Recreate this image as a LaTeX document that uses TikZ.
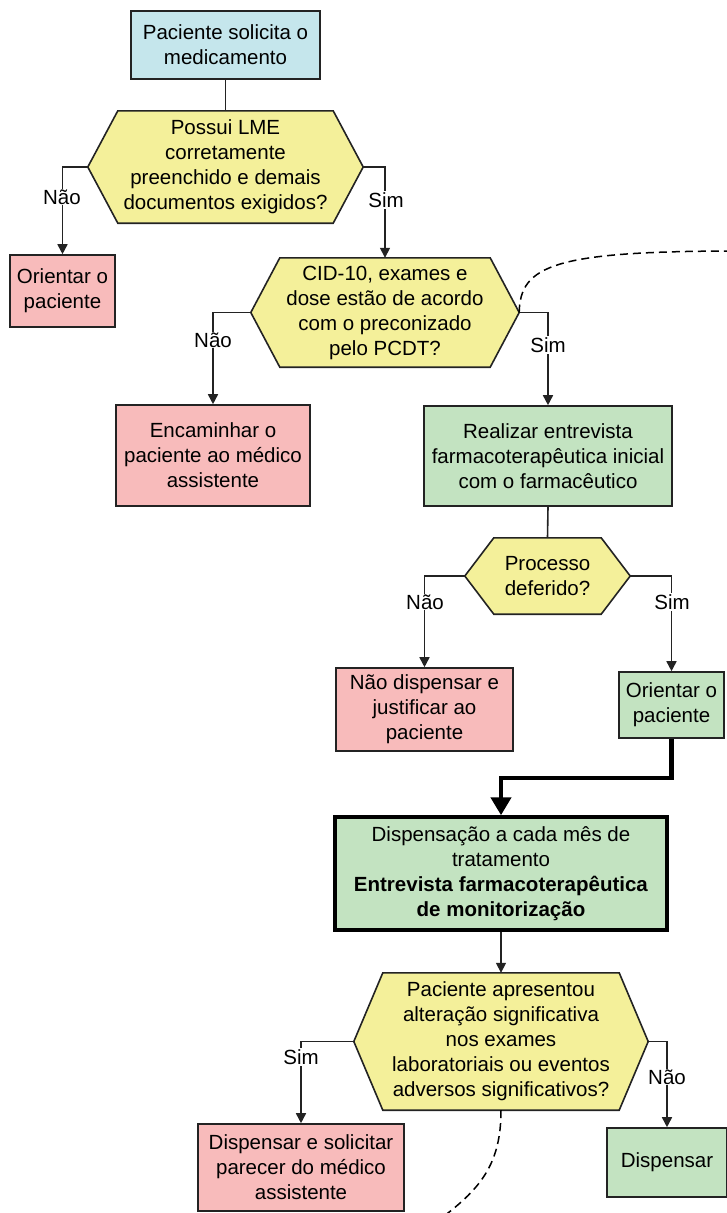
\documentclass[tikz,border=0pt]{standalone}
\usepackage{fontspec}
\setmainfont{Liberation Sans}
\usetikzlibrary{arrows.meta,calc,backgrounds}
\definecolor{bluefill}{RGB}{197,230,236}
\definecolor{yellowfill}{RGB}{244,240,154}
\definecolor{pinkfill}{RGB}{248,187,187}
\definecolor{greenfill}{RGB}{195,227,193}
\definecolor{edge}{RGB}{35,35,35}
\newcommand\hexpath[2]{\filldraw[hexline] (#1.north west) -- (#1.north east) -- ($(#1.east)+(#2,0)$) -- (#1.south east) -- (#1.south west) -- ($(#1.west)-(#2,0)$) -- cycle;}
\begin{document}
\begin{tikzpicture}[x=1pt,y=-1pt,
  every node/.style={font=\fontsize{20.5}{25}\selectfont},
  box/.style={draw=edge, line width=1.6pt, inner sep=0pt, align=center},
  hexnode/.style={inner sep=0pt, align=center},
  hexline/.style={draw=edge, line width=1.6pt, fill=yellowfill},
  conn/.style={draw=edge, line width=1.6pt},
  arr/.style={conn, -{Triangle[length=10pt,width=10pt]}},
  thickarr/.style={draw=black, line width=4.5pt, -{Triangle[length=18pt,width=20pt]}},
  lbl/.style={fill=white, inner sep=1pt},
  dashcurve/.style={draw=black, line width=1.5pt, dash pattern=on 8pt off 5pt}
]
\useasboundingbox (0,0) rectangle (726,1213);

% boxes
\node[box, fill=bluefill, minimum width=189pt, minimum height=68pt] (b1) at (225.5,45) {Paciente solicita o\\medicamento};
\node[hexnode, minimum width=215pt, minimum height=112pt] (h1) at (225.5,167) {Possui LME\\corretamente\\preenchido e demais\\documentos exigidos?};
\node[box, fill=pinkfill, minimum width=105pt, minimum height=72pt] (o1) at (62.5,291) {Orientar o\\paciente};
\node[hexnode, minimum width=210pt, minimum height=109pt] (h2) at (385,312.5) {CID-10, exames e\\dose estão de acordo\\com o preconizado\\pelo PCDT?};
\node[box, fill=pinkfill, minimum width=194pt, minimum height=101pt] (e1) at (213,455.5) {Encaminhar o\\paciente ao médico\\assistente};
\node[box, fill=greenfill, minimum width=248pt, minimum height=100pt] (r1) at (548,456) {Realizar entrevista\\farmacoterapêutica inicial\\com o farmacêutico};
\node[hexnode, minimum width=107pt, minimum height=76pt] (h3) at (547.5,576) {Processo\\deferido?};
\node[box, fill=pinkfill, minimum width=177pt, minimum height=83pt] (n1) at (424.5,709.5) {Não dispensar e\\justificar ao\\paciente};
\node[box, fill=greenfill, minimum width=105pt, minimum height=66pt] (o2) at (671.5,705) {Orientar o\\paciente};
\node[box, draw=black, line width=3.5pt, fill=greenfill, minimum width=332pt, minimum height=113pt] (d1) at (501,873.5) {Dispensação a cada mês de\\tratamento\\\textbf{Entrevista farmacoterapêutica}\\\textbf{de monitorização}};
\node[hexnode, minimum width=236pt, minimum height=137pt] (h4) at (501,1041.5) {Paciente apresentou\\alteração significativa\\nos exames\\laboratoriais ou eventos\\adversos significativos?};
\node[box, fill=pinkfill, minimum width=206pt, minimum height=87pt] (s1) at (301,1167.5) {Dispensar e solicitar\\parecer do médico\\assistente};
\node[box, fill=greenfill, minimum width=120pt, minimum height=69pt] (s2) at (667,1162.5) {Dispensar};

% hexagon outlines
\begin{scope}[on background layer]
\hexpath{h1}{30}
\hexpath{h2}{29}
\hexpath{h3}{29}
\hexpath{h4}{29}
\end{scope}

% tip coordinates
\coordinate (h1L) at ($(h1.west)-(30,0)$);
\coordinate (h1R) at ($(h1.east)+(30,0)$);
\coordinate (h2L) at ($(h2.west)-(29,0)$);
\coordinate (h2R) at ($(h2.east)+(29,0)$);
\coordinate (h3L) at ($(h3.west)-(29,0)$);
\coordinate (h3R) at ($(h3.east)+(29,0)$);
\coordinate (h4L) at ($(h4.west)-(29,0)$);
\coordinate (h4R) at ($(h4.east)+(29,0)$);
\coordinate (c1end) at (740,251);
\coordinate (c2end) at (436,1222);

% connectors
\draw[conn] (b1.south) -- (h1.north);
\draw[arr] (h1L) -| (o1.north);
\draw[arr] (h1R) -| (h2.north);
\draw[arr] (h2L) -| (e1.north);
\draw[arr] (h2R) -| (r1.north);
\draw[conn] (r1.south) -- (h3.north);
\draw[arr] (h3L) -| (n1.north);
\draw[arr] (h3R) -| (o2.north);
\draw[thickarr] (o2.south) -- ++(0,39) -| (d1.north);
\draw[arr] (d1.south) -- (h4.north);
\draw[arr] (h4L) -| (s1.north);
\draw[arr] (h4R) -| (s2.north);

% dashed curves
\draw[dashcurve] (h2R) .. controls (520,265) and (555,251) .. (c1end);
\draw[dashcurve] (h4.south) .. controls (501,1165) and (480,1190) .. (c2end);

% labels
\node[lbl] (l1) at (62,197) {Não};
\node[lbl] (l2) at (386,200) {Sim};
\node[lbl] (l3) at (213,340) {Não};
\node[lbl] (l4) at (548,345) {Sim};
\node[lbl] (l5) at (425,602) {Não};
\node[lbl] (l6) at (672,602) {Sim};
\node[lbl] (l7) at (301,1057) {Sim};
\node[lbl] (l8) at (667,1077) {Não};
\end{tikzpicture}
\end{document}
